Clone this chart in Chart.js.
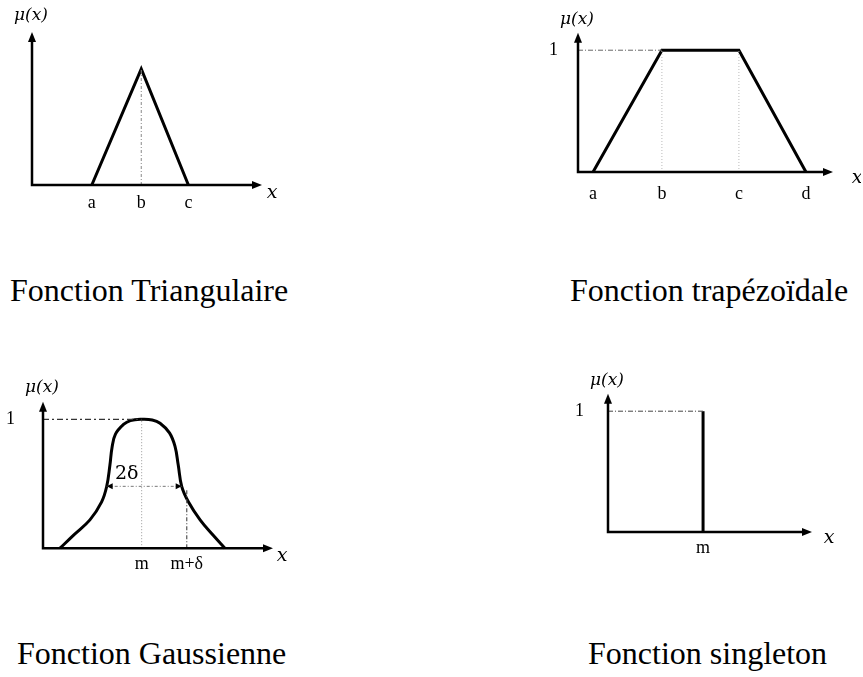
<!DOCTYPE html>
<html>
<head>
<meta charset="utf-8">
<script src="https://cdn.jsdelivr.net/npm/chart.js@4.4.1/dist/chart.umd.min.js"></script>
<style>
  html, body { margin: 0; padding: 0; background: #fff; }
  body { width: 863px; height: 677px; position: relative; overflow: hidden; }
  canvas { position: absolute; }
  .caption {
    position: absolute;
    font-family: 'Liberation Serif', 'Times New Roman', serif;
    font-size: 32px;
    line-height: 1;
    color: #000;
    white-space: nowrap;
  }
</style>
</head>
<body>
<canvas id="triChart" width="285" height="218" style="left:2px;top:2px"></canvas>
<canvas id="trapChart" width="328" height="210" style="left:533px;top:2px"></canvas>
<canvas id="gaussChart" width="290" height="224" style="left:3px;top:363px"></canvas>
<canvas id="singChart" width="279" height="208" style="left:563px;top:359px"></canvas>

<div class="caption" style="left:10px;top:274px">Fonction Triangulaire</div>
<div class="caption" style="left:570px;top:274px">Fonction trapézoïdale</div>
<div class="caption" style="left:17px;top:637px">Fonction Gaussienne</div>
<div class="caption" style="left:588px;top:637px">Fonction singleton</div>

<script>
// triangular
const triX = [2.6, 4.75, 6.8];
const triY = [0, 1, 0];
const triTicks = ['a', 'b', 'c'];

// trapezoidal
const trapX = [0.59, 3.29, 6.31, 8.94];
const trapY = [0, 1, 1, 0];
const trapTicks = ['a', 'b', 'c', 'd'];

// gaussian (hand drawn bell)
const gaussX = [0.74, 1.32, 2.04, 2.55, 2.77, 2.91, 3.0, 3.15, 3.5, 3.8, 4.29, 4.75, 5.09, 5.5, 5.74, 5.88, 6.03, 6.32, 6.83, 7.40, 7.91];
const gaussY = [0, 0.10, 0.22, 0.36, 0.48, 0.645, 0.78, 0.885, 0.96, 0.99, 1, 0.995, 0.97, 0.895, 0.79, 0.645, 0.48, 0.36, 0.22, 0.10, 0];
const gaussM = 4.29;
const gaussMDelta = 6.25;
const gaussHalfX = [2.77, 6.03];
const gaussHalfY = 0.48;
const gaussTicks = ['m', 'm+δ'];

// singleton
const singX = [4.66, 4.66];
const singY = [0, 1];
const singTicks = ['m'];

const yTickLabels = ['1'];

const pts = (xs, ys) => xs.map((x, i) => ({ x: x, y: ys[i] }));

function line(data, color, width, dash, extra) {
    return Object.assign({
        data: data,
        borderColor: color,
        borderWidth: width,
        borderDash: dash || [],
        pointRadius: 0,
        fill: false,
        tension: 0,
        clip: false,
        borderJoinStyle: 'miter'
    }, extra || {});
}

// axes with arrows, mu(x) and x labels, and the 2-delta arrows
const axisDecor = {
    id: 'axisDecor',
    afterDraw(chart, args, o) {
        const ctx = chart.ctx;
        const a = chart.chartArea;
        ctx.save();
        ctx.strokeStyle = '#000';
        ctx.fillStyle = '#000';
        ctx.lineWidth = 2.5;
        ctx.beginPath();
        ctx.moveTo(a.left, a.top + 6);
        ctx.lineTo(a.left, a.bottom);
        ctx.lineTo(a.right - 6, a.bottom);
        ctx.stroke();

        ctx.beginPath();
        ctx.moveTo(a.left, a.top);
        ctx.lineTo(a.left - 4, a.top + 10);
        ctx.lineTo(a.left + 4, a.top + 10);
        ctx.closePath();
        ctx.fill();
        ctx.beginPath();
        ctx.moveTo(a.right, a.bottom);
        ctx.lineTo(a.right - 10, a.bottom - 4);
        ctx.lineTo(a.right - 10, a.bottom + 4);
        ctx.closePath();
        ctx.fill();

        ctx.textAlign = 'center';
        ctx.textBaseline = 'middle';
        ctx.font = 'italic 17px "DejaVu Serif"';
        ctx.fillText('μ(x)', a.left - 1, a.top - o.muDy);
        ctx.font = 'italic 19px "DejaVu Serif"';
        ctx.fillText('x', a.right + o.xDx, a.bottom + o.xDy);

        if (o.half != null) {
            const p = chart.getDatasetMeta(o.half).data;
            const p0 = p[0], p1 = p[p.length - 1];
            ctx.beginPath();
            ctx.moveTo(p0.x, p0.y);
            ctx.lineTo(p0.x + 6, p0.y - 3);
            ctx.lineTo(p0.x + 6, p0.y + 3);
            ctx.closePath();
            ctx.fill();
            ctx.beginPath();
            ctx.moveTo(p1.x, p1.y);
            ctx.lineTo(p1.x - 6, p1.y - 3);
            ctx.lineTo(p1.x - 6, p1.y + 3);
            ctx.closePath();
            ctx.fill();
            ctx.font = '19px "DejaVu Serif"';
            ctx.fillText('2δ', p0.x + 20, p0.y - 12);
        }
        ctx.restore();
    }
};

function makeChart(id, datasets, cfg) {
    const tickFont = { family: 'Liberation Serif', size: 18 };
    return new Chart(document.getElementById(id), {
        type: 'line',
        data: { datasets: datasets },
        plugins: [axisDecor],
        options: {
            responsive: false,
            animation: false,
            layout: { padding: { top: cfg.padTop, right: cfg.padRight, left: 0, bottom: 0 } },
            plugins: {
                legend: { display: false },
                tooltip: { enabled: false },
                axisDecor: cfg.decor
            },
            scales: {
                x: {
                    type: 'linear', min: 0, max: 10,
                    grid: { display: false, drawTicks: false },
                    border: { display: false },
                    afterBuildTicks: s => { s.ticks = cfg.xVals.map(v => ({ value: v })); },
                    afterFit: s => { s.height = cfg.xh; },
                    ticks: {
                        autoSkip: false, maxRotation: 0, minRotation: 0,
                        padding: cfg.xPad, color: '#000', font: tickFont,
                        callback: (v, i) => cfg.xLabels[i]
                    }
                },
                y: {
                    type: 'linear', min: 0, max: cfg.yMax,
                    grid: { display: false, drawTicks: false },
                    border: { display: false },
                    afterBuildTicks: s => { s.ticks = [{ value: 1 }]; },
                    afterFit: s => { s.width = cfg.yw; },
                    ticks: {
                        display: cfg.showY, padding: cfg.yPad, color: '#000', font: tickFont,
                        callback: (v, i) => yTickLabels[i]
                    }
                }
            }
        }
    });
}

const dashDot = [5, 2, 1, 2];

makeChart('triChart', [
    line([{ x: triX[1], y: 0 }, { x: triX[1], y: triY[1] }], '#888', 1, [3, 2, 1, 2]),
    line(pts(triX, triY), '#000', 3)
], {
    padTop: 30, padRight: 25, yw: 30, xh: 35, yMax: 1.319,
    xVals: triX, xLabels: triTicks, xPad: 7, showY: false, yPad: 20,
    decor: { muDy: 16, xDx: 10, xDy: 8 }
});

makeChart('trapChart', [
    line([{ x: 0, y: 1 }, { x: trapX[1], y: 1 }], '#666', 1, dashDot),
    line([{ x: trapX[1], y: 0 }, { x: trapX[1], y: 1 }], '#bbb', 1, [1, 2]),
    line([{ x: trapX[2], y: 0 }, { x: trapX[2], y: 1 }], '#bbb', 1, [1, 2]),
    line(pts(trapX, trapY), '#000', 3)
], {
    padTop: 26, padRight: 28, yw: 45, xh: 40, yMax: 1.143,
    xVals: trapX, xLabels: trapTicks, xPad: 11, showY: true, yPad: 20,
    decor: { muDy: 13, xDx: 24, xDy: 6 }
});

makeChart('gaussChart', [
    line([{ x: 0, y: 1 }, { x: gaussM, y: 1 }], '#333', 1.3, [6, 3, 2, 3]),
    line([{ x: gaussM, y: 0 }, { x: gaussM, y: 1 }], '#999', 1, [1, 2]),
    line([{ x: gaussHalfX[0], y: gaussHalfY }, { x: gaussHalfX[1], y: gaussHalfY }], '#777', 1, [3, 2, 1, 2]),
    line([{ x: gaussMDelta, y: 0 }, { x: gaussMDelta, y: gaussHalfY - 0.02 }], '#555', 1.2, [4, 2, 1, 2]),
    line(pts(gaussX, gaussY), '#000', 3, null, { tension: 0.4, borderJoinStyle: 'round' })
], {
    padTop: 30, padRight: 20, yw: 40, xh: 35, yMax: 1.136,
    xVals: [gaussM, gaussMDelta], xLabels: gaussTicks, xPad: 5, showY: true, yPad: 28,
    decor: { muDy: 14, xDx: 9, xDy: 8, half: 2 }
});

makeChart('singChart', [
    line([{ x: 0, y: 1 }, { x: singX[0], y: 1 }], '#444', 1, dashDot),
    line(pts(singX, singY), '#000', 3)
], {
    padTop: 30, padRight: 30, yw: 45, xh: 35, yMax: 1.144,
    xVals: [singX[0]], xLabels: singTicks, xPad: 5, showY: true, yPad: 24,
    decor: { muDy: 13, xDx: 17, xDy: 6 }
});
</script>
</body>
</html>
